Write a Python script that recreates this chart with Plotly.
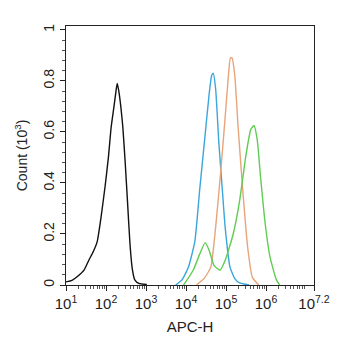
import plotly.graph_objects as go

# Data: x given as log10(APC-H), y as Count (10^3)
black_logx = [1.0, 1.15, 1.30, 1.45, 1.58, 1.68, 1.78, 1.88, 1.98, 2.06, 2.13, 2.20, 2.25, 2.28, 2.32, 2.37, 2.42, 2.48, 2.54, 2.60, 2.66, 2.72, 2.82, 3.02]
black_y    = [0.012, 0.018, 0.035, 0.058, 0.10, 0.13, 0.17, 0.27, 0.39, 0.50, 0.62, 0.70, 0.76, 0.79, 0.76, 0.70, 0.62, 0.48, 0.32, 0.16, 0.06, 0.02, 0.006, 0.002]

blue_logx = [3.74, 3.90, 4.06, 4.22, 4.34, 4.46, 4.58, 4.64, 4.68, 4.74, 4.82, 4.90, 4.98, 5.10, 5.22, 5.34, 5.58]
blue_y    = [0.0, 0.02, 0.07, 0.17, 0.37, 0.56, 0.75, 0.82, 0.83, 0.77, 0.56, 0.39, 0.225, 0.07, 0.025, 0.008, 0.0]

orange_logx = [4.26, 4.46, 4.62, 4.74, 4.86, 4.98, 5.06, 5.11, 5.15, 5.22, 5.30, 5.42, 5.54, 5.66, 5.82]
orange_y    = [0.0, 0.027, 0.07, 0.225, 0.43, 0.66, 0.82, 0.89, 0.89, 0.82, 0.625, 0.37, 0.15, 0.03, 0.0]

green_logx = [3.94, 4.18, 4.34, 4.48, 4.58, 4.70, 4.85, 4.98, 5.18, 5.34, 5.50, 5.62, 5.70, 5.78, 5.86, 5.98, 6.10, 6.26, 6.34]
green_y    = [0.0, 0.058, 0.12, 0.166, 0.135, 0.077, 0.058, 0.097, 0.20, 0.33, 0.51, 0.61, 0.625, 0.57, 0.43, 0.24, 0.11, 0.02, 0.0]

x_tick_exps = [1, 2, 3, 4, 5, 6, 7.2]
x_tick_text = ["10<sup>1</sup>", "10<sup>2</sup>", "10<sup>3</sup>", "10<sup>4</sup>",
               "10<sup>5</sup>", "10<sup>6</sup>", "10<sup>7.2</sup>"]
y_ticks = [0, 0.2, 0.4, 0.6, 0.8, 1]
y_tick_text = ["0", "0.2", "0.4", "0.6", "0.8", "1"]

series = [
    (black_logx, black_y, "#111111"),
    (blue_logx, blue_y, "#3ba6dc"),
    (orange_logx, orange_y, "#e8a47a"),
    (green_logx, green_y, "#5fcc52"),
]

fig = go.Figure()
for lx, ys, col in series:
    fig.add_trace(go.Scatter(x=[10 ** v for v in lx], y=ys, mode="lines",
                             line=dict(color=col, width=1.4, shape="spline", smoothing=0.5),
                             showlegend=False, hoverinfo="skip"))

minor_vals = [m * 10 ** k for k in range(1, 7) for m in range(2, 10)]

font = dict(family="Liberation Sans, Arial, sans-serif", color="#222222")
fig.update_layout(
    width=342, height=350,
    margin=dict(l=66, r=17, t=26, b=65),
    paper_bgcolor="white", plot_bgcolor="white",
    font=dict(size=15, **font),
    xaxis=dict(type="log", range=[1, 7.2],
               tickvals=[10 ** v for v in x_tick_exps], ticktext=x_tick_text,
               ticks="outside", ticklen=5, tickwidth=1, tickcolor="#222",
               minor=dict(tickvals=minor_vals, ticks="outside", ticklen=3, tickcolor="#555"),
               showline=True, linecolor="#222", linewidth=1.2, mirror=True,
               showgrid=False, zeroline=False,
               tickfont=dict(size=15),
               title=dict(text="APC-H", font=dict(size=15), standoff=10)),
    yaxis=dict(range=[0, 1.015],
               tickvals=y_ticks, ticktext=y_tick_text, tickangle=-90,
               ticks="outside", ticklen=5, tickwidth=1, tickcolor="#222",
               minor=dict(dtick=0.04, ticks="outside", ticklen=3, tickcolor="#555"),
               showline=True, linecolor="#222", linewidth=1.2, mirror=True,
               showgrid=False, zeroline=False,
               tickfont=dict(size=14),
               title=dict(text="Count (10<sup>3</sup>)", font=dict(size=14), standoff=10)),
)

fig.write_html("out.html")
